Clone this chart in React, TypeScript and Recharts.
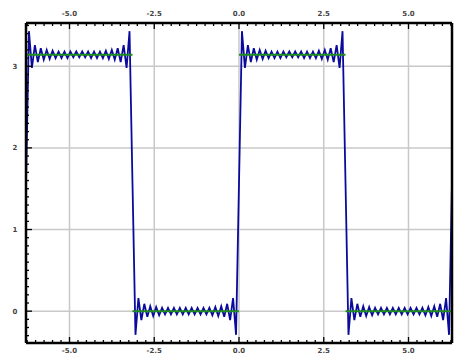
import React from "react";
import { LineChart, Line, XAxis, YAxis, ReferenceLine } from "recharts";

// sample positions (radians) of the partial Fourier sum
const XS = [
  -6.283, -6.196, -6.109, -6.021, -5.934, -5.847, -5.76, -5.672, -5.585, -5.498, -5.411, -5.323,
  -5.236, -5.149, -5.061, -4.974, -4.887, -4.8, -4.712, -4.625, -4.538, -4.451, -4.363, -4.276,
  -4.189, -4.102, -4.014, -3.927, -3.84, -3.752, -3.665, -3.578, -3.491, -3.403, -3.316, -3.229,
  -3.142, -3.054, -2.967, -2.88, -2.793, -2.705, -2.618, -2.531, -2.443, -2.356, -2.269, -2.182,
  -2.094, -2.007, -1.92, -1.833, -1.745, -1.658, -1.571, -1.484, -1.396, -1.309, -1.222, -1.134,
  -1.047, -0.96, -0.873, -0.785, -0.698, -0.611, -0.524, -0.436, -0.349, -0.262, -0.175, -0.087,
  0,
  0.087, 0.175, 0.262, 0.349, 0.436, 0.524, 0.611, 0.698, 0.785, 0.873, 0.96, 1.047,
  1.134, 1.222, 1.309, 1.396, 1.484, 1.571, 1.658, 1.745, 1.833, 1.92, 2.007, 2.094,
  2.182, 2.269, 2.356, 2.443, 2.531, 2.618, 2.705, 2.793, 2.88, 2.967, 3.054, 3.142,
  3.229, 3.316, 3.403, 3.491, 3.578, 3.665, 3.752, 3.84, 3.927, 4.014, 4.102, 4.189,
  4.276, 4.363, 4.451, 4.538, 4.625, 4.712, 4.8, 4.887, 4.974, 5.061, 5.149, 5.236,
  5.323, 5.411, 5.498, 5.585, 5.672, 5.76, 5.847, 5.934, 6.021, 6.109, 6.196, 6.283,
];

// blue curve values
const BLUE = [
  1.57,
  3.43, 2.98, 3.26, 3.05, 3.22, 3.08, 3.2, 3.09, 3.19, 3.1, 3.18, 3.1, 3.18, 3.1, 3.18, 3.11, 3.18, 3.11,
  3.18, 3.11, 3.18, 3.1, 3.18, 3.1, 3.18, 3.1, 3.19, 3.09, 3.2, 3.08, 3.22, 3.05, 3.26, 2.98, 3.43,
  1.57,
  -0.29, 0.16, -0.11, 0.09, -0.07, 0.06, -0.06, 0.05, -0.05, 0.04, -0.04, 0.04, -0.04, 0.04, -0.04, 0.04, -0.04, 0.04,
  -0.04, 0.04, -0.04, 0.04, -0.04, 0.04, -0.04, 0.04, -0.05, 0.05, -0.06, 0.06, -0.07, 0.09, -0.11, 0.16, -0.29,
  1.57,
  3.43, 2.98, 3.26, 3.05, 3.22, 3.08, 3.2, 3.09, 3.19, 3.1, 3.18, 3.1, 3.18, 3.1, 3.18, 3.11, 3.18, 3.11,
  3.18, 3.11, 3.18, 3.1, 3.18, 3.1, 3.18, 3.1, 3.19, 3.09, 3.2, 3.08, 3.22, 3.05, 3.26, 2.98, 3.43,
  1.57,
  -0.29, 0.16, -0.11, 0.09, -0.07, 0.06, -0.06, 0.05, -0.05, 0.04, -0.04, 0.04, -0.04, 0.04, -0.04, 0.04, -0.04, 0.04,
  -0.04, 0.04, -0.04, 0.04, -0.04, 0.04, -0.04, 0.04, -0.05, 0.05, -0.06, 0.06, -0.07, 0.09, -0.11, 0.16, -0.29,
  1.57,
];

// green square wave, null breaks the line at each jump
const STEP_X = [-6.283, -3.142, -3.142, -3.142, 0, 0, 0, 3.142, 3.142, 3.142, 6.283];
const STEP_Y = [3.142, 3.142, null, 0, 0, null, 3.142, 3.142, null, 0, 0];

const X_MAJOR = [-5, -2.5, 0, 2.5, 5];
const X_LABELS = ["-5.0", "-2.5", "0.0", "2.5", "5.0"];
const Y_MAJOR = [0, 1, 2, 3];
const Y_LABELS = ["0", "1", "2", "3"];

const X_DOMAIN = [-6.2832, 6.2832];
const Y_DOMAIN = [-0.39, 3.53];

const xTicks = Array.from({ length: 51 }, (_, i) => (i - 25) * 0.25);
const yTicks = Array.from({ length: 39 }, (_, i) => (i - 3) / 10);

const curve = XS.map((x, i) => ({ x, y: BLUE[i] }));
const step = STEP_X.map((x, i) => ({ x, g: STEP_Y[i] }));

const labelStyle = {
  fontSize: 7,
  fontWeight: 700,
  fill: "#444",
  fontFamily: "DejaVu Sans",
};

// recharts puts the tick 2px (default tickMargin) outside the frame; undo that
const MARGIN = 2;

const makeTick = (side: string) => (props: any) => {
  const { payload } = props;
  let x = props.x;
  let y = props.y;
  const v = payload.value;
  const horiz = side === "top" || side === "bottom";
  const idx = horiz ? X_MAJOR.indexOf(v) : Y_MAJOR.indexOf(v);
  const len = idx >= 0 ? 6 : 3;
  const label = idx >= 0 ? (horiz ? X_LABELS[idx] : Y_LABELS[idx]) : null;
  let x2, y2, tx, ty;
  if (side === "bottom") {
    y -= MARGIN;
    x2 = x;
    y2 = y - len;
    tx = x;
    ty = y + 10;
  } else if (side === "top") {
    y += MARGIN;
    x2 = x;
    y2 = y + len;
    tx = x;
    ty = y - 7;
  } else if (side === "left") {
    x += MARGIN;
    x2 = x + len;
    y2 = y;
    tx = x - 11;
    ty = y + 2.5;
  } else {
    x -= MARGIN;
    x2 = x - len;
    y2 = y;
    tx = x + 10;
    ty = y + 2.5;
  }
  return (
    <g>
      <line x1={x} y1={y} x2={x2} y2={y2} stroke="#000" strokeWidth={1.3} />
      {label && (
        <text x={tx} y={ty} textAnchor="middle" style={labelStyle}>
          {label}
        </text>
      )}
    </g>
  );
};

const frame = { stroke: "#000", strokeWidth: 2.5 };

export default function App() {
  return (
    <div style={{ position: "absolute", left: 0, top: 0 }}>
      <LineChart width={468} height={356} data={curve} margin={{ top: 0, right: 0, bottom: 0, left: 0 }}>
        {X_MAJOR.map((v) => (
          <ReferenceLine key={`vx${v}`} x={v} stroke="#c8c8c8" strokeWidth={1.5} />
        ))}
        {Y_MAJOR.map((v) => (
          <ReferenceLine key={`hy${v}`} y={v} stroke="#c8c8c8" strokeWidth={1.5} />
        ))}
        <XAxis
          dataKey="x"
          type="number"
          domain={X_DOMAIN}
          ticks={xTicks}
          interval={0}
          height={13}
          tickSize={0}
          tickLine={false}
          axisLine={frame}
          tick={makeTick("bottom")}
        />
        <XAxis
          xAxisId="top"
          orientation="top"
          dataKey="x"
          type="number"
          domain={X_DOMAIN}
          ticks={xTicks}
          interval={0}
          height={23}
          tickSize={0}
          tickLine={false}
          axisLine={frame}
          tick={makeTick("top")}
        />
        <YAxis
          type="number"
          domain={Y_DOMAIN}
          ticks={yTicks}
          interval={0}
          width={26}
          tickSize={0}
          tickLine={false}
          axisLine={frame}
          tick={makeTick("left")}
        />
        <YAxis
          yAxisId="right"
          orientation="right"
          type="number"
          domain={Y_DOMAIN}
          ticks={yTicks}
          interval={0}
          width={16}
          tickSize={0}
          tickLine={false}
          axisLine={frame}
          tick={makeTick("right")}
        />
        <Line
          dataKey="y"
          stroke="#0a0a9c"
          strokeWidth={1.8}
          dot={false}
          isAnimationActive={false}
        />
        <Line
          data={step}
          dataKey="g"
          stroke="#1e8c1e"
          strokeWidth={2}
          dot={false}
          isAnimationActive={false}
        />
      </LineChart>
    </div>
  );
}
